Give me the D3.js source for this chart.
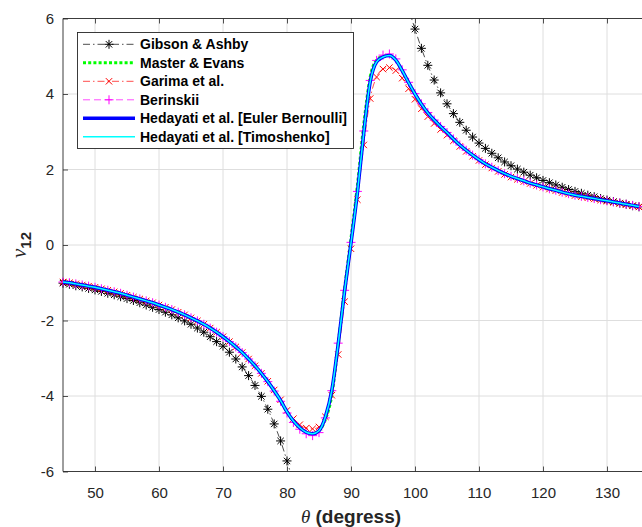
<!DOCTYPE html>
<html>
<head>
<meta charset="utf-8">
<script src="https://d3js.org/d3.v7.min.js"></script>
<style>
  body { margin: 0; background: #fff; }
  svg { display: block; font-family: Arial, "Liberation Sans", Helvetica, sans-serif; }
  .tick text { fill: #262626; font-size: 15px; }
  .tick line { stroke: #262626; stroke-width: 0.8; }
</style>
</head>
<body>
<div id="chart"></div>
<script>
// angle grid (degrees)
const theta = [45,46,47,48,49,50,51,52,53,54,55,56,57,58,59,60,61,62,63,64,65,66,67,68,69,
  70,71,72,73,74,75,76,77,78,79,80,81,82,83,84,85,86,87,88,89,90,91,92,93,94,95,96,97,98,99,
  100,101,102,103,104,105,106,107,108,109,110,111,112,113,114,115,116,117,118,119,120,121,
  122,123,124,125,126,127,128,129,130,131,132,133,134,135];

// Gibson & Ashby (null where the curve leaves the axes)
const nuGibson = [-1.01,-1.04,-1.08,-1.11,-1.15,-1.19,-1.23,-1.28,-1.32,-1.37,-1.42,-1.47,-1.53,
  -1.59,-1.65,-1.71,-1.78,-1.85,-1.93,-2.01,-2.10,-2.20,-2.31,-2.43,-2.56,-2.68,-2.84,-3.02,
  -3.23,-3.46,-3.72,-4.01,-4.35,-4.74,-5.19,-5.72,-6.30,
  null,null,null,null,null,null,null,null,null,null,null,null,null,null,null,null,null,
  6.25,5.72,5.21,4.76,4.37,4.03,3.74,3.48,3.25,3.04,2.86,2.70,2.56,2.43,2.31,2.20,2.10,2.01,
  1.93,1.85,1.78,1.71,1.65,1.59,1.53,1.47,1.42,1.37,1.32,1.28,1.23,1.19,1.15,1.11,1.08,1.04,1.01];

// Hedayati et al. [Euler Bernoulli] (Timoshenko lies on top of it)
const nuEuler = [-0.98,-1.00,-1.03,-1.06,-1.09,-1.12,-1.16,-1.20,-1.24,-1.28,-1.33,-1.38,-1.43,
  -1.48,-1.53,-1.59,-1.65,-1.71,-1.78,-1.85,-1.93,-2.01,-2.10,-2.20,-2.31,-2.43,-2.56,-2.70,
  -2.85,-3.02,-3.20,-3.40,-3.62,-3.86,-4.12,-4.42,-4.66,-4.84,-4.96,-5.00,-4.92,-4.55,-3.85,
  -2.62,-1.22,0.05,1.38,2.98,4.32,4.85,4.98,5.02,4.90,4.62,4.30,4.00,3.73,3.50,3.31,3.14,2.98,
  2.81,2.65,2.51,2.38,2.26,2.15,2.06,1.97,1.89,1.82,1.76,1.70,1.64,1.59,1.54,1.49,1.45,1.40,
  1.36,1.32,1.29,1.26,1.23,1.20,1.17,1.14,1.11,1.08,1.05,1.02];

const nuMaster = [-0.98,-1.00,-1.03,-1.06,-1.09,-1.12,-1.16,-1.20,-1.24,-1.28,-1.33,-1.38,-1.43,
  -1.48,-1.53,-1.59,-1.65,-1.71,-1.78,-1.85,-1.93,-2.01,-2.10,-2.20,-2.31,-2.43,-2.56,-2.70,
  -2.85,-3.02,-3.20,-3.40,-3.62,-3.86,-4.12,-4.42,-4.66,-4.84,-4.96,-5.00,-4.92,-4.62,-3.98,
  -2.62,-1.15,0.18,1.58,3.20,4.45,4.90,5.00,5.02,4.90,4.62,4.30,4.00,3.73,3.50,3.31,3.14,2.98,
  2.81,2.65,2.51,2.38,2.26,2.15,2.06,1.97,1.89,1.82,1.76,1.70,1.64,1.59,1.54,1.49,1.45,1.40,
  1.36,1.32,1.29,1.26,1.23,1.20,1.17,1.14,1.11,1.08,1.05,1.02];

const nuGarima = [-0.98,-1.00,-1.03,-1.06,-1.09,-1.12,-1.16,-1.20,-1.24,-1.28,-1.33,-1.38,-1.43,
  -1.48,-1.53,-1.59,-1.65,-1.71,-1.78,-1.85,-1.93,-2.01,-2.10,-2.20,-2.31,-2.43,-2.56,-2.70,
  -2.85,-3.02,-3.20,-3.40,-3.61,-3.84,-4.10,-4.38,-4.60,-4.76,-4.85,-4.87,-4.82,-4.55,-3.98,
  -2.90,-1.50,-0.10,1.20,2.65,3.88,4.45,4.66,4.70,4.62,4.42,4.14,3.86,3.61,3.40,3.22,3.06,2.91,
  2.76,2.61,2.48,2.35,2.24,2.13,2.04,1.95,1.87,1.80,1.74,1.68,1.63,1.58,1.53,1.48,1.44,1.39,
  1.35,1.31,1.28,1.25,1.22,1.19,1.16,1.13,1.10,1.07,1.04,1.01];

const nuBerinskii = [-0.98,-1.00,-1.03,-1.06,-1.09,-1.12,-1.16,-1.20,-1.24,-1.28,-1.33,-1.38,-1.43,
  -1.48,-1.53,-1.59,-1.65,-1.71,-1.78,-1.85,-1.93,-2.01,-2.10,-2.20,-2.31,-2.43,-2.56,-2.70,
  -2.85,-3.02,-3.20,-3.40,-3.62,-3.87,-4.14,-4.45,-4.70,-4.88,-5.00,-5.05,-4.97,-4.58,-3.86,
  -2.60,-1.20,0.07,1.42,3.02,4.36,4.89,5.03,5.06,4.93,4.64,4.31,4.01,3.74,3.51,3.31,3.14,2.98,
  2.81,2.65,2.51,2.38,2.26,2.15,2.06,1.97,1.89,1.82,1.76,1.70,1.64,1.59,1.54,1.49,1.45,1.40,
  1.36,1.32,1.29,1.26,1.23,1.20,1.17,1.14,1.11,1.08,1.05,1.02];

const xTicks = [50,60,70,80,90,100,110,120,130];
const yTicks = [-6,-4,-2,0,2,4,6];

const series = [
  {name: "Gibson & Ashby", v: nuGibson, color: "#000000", w: 0.7, dash: "7,3,1.5,3", marker: "star"},
  {name: "Master & Evans", v: nuMaster, color: "#00ff00", w: 3, dash: "3,2.2", marker: null},
  {name: "Garima et al.", v: nuGarima, color: "#ff0000", w: 0.7, dash: "7,3,1.5,3", marker: "x"},
  {name: "Berinskii", v: nuBerinskii, color: "#ff00ff", w: 0.7, dash: "7,4", marker: "plus"},
  {name: "Hedayati et al. [Euler Bernoulli]", v: nuEuler, color: "#0000ff", w: 3.5, dash: null, marker: null},
  {name: "Hedayati et al. [Timoshenko]", v: nuEuler, color: "#00ffff", w: 1.5, dash: null, marker: null}
];

const width = 642, height = 527;
const plotLeft = 63, plotTop = 18.5, plotBottom = 471.5, frameRight = 648;

const svg = d3.select("#chart").append("svg")
  .attr("width", width).attr("height", height);

const x = d3.scaleLinear().domain([45, 135]).range([plotLeft, 639]);
const y = d3.scaleLinear().domain([-6, 6]).range([plotBottom, plotTop]);

// grid
svg.append("g").selectAll("line").data(xTicks).enter().append("line")
  .attr("x1", d => x(d)).attr("x2", d => x(d))
  .attr("y1", plotTop).attr("y2", plotBottom)
  .attr("stroke", "#dedede").attr("stroke-width", 1);
svg.append("g").selectAll("line").data(yTicks.slice(1, -1)).enter().append("line")
  .attr("x1", plotLeft).attr("x2", frameRight)
  .attr("y1", d => y(d)).attr("y2", d => y(d))
  .attr("stroke", "#dedede").attr("stroke-width", 1);

// axes (ticks inside, like the original); plain hyphen for negatives
const fmt = d => String(d);
const gx = svg.append("g").attr("transform", `translate(0,${plotBottom})`)
  .call(d3.axisBottom(x).tickValues(xTicks).tickSize(-5).tickSizeOuter(0).tickPadding(16).tickFormat(fmt));
const gxt = svg.append("g").attr("transform", `translate(0,${plotTop})`)
  .call(d3.axisTop(x).tickValues(xTicks).tickSize(-5).tickSizeOuter(0).tickFormat(""));
const gy = svg.append("g").attr("transform", `translate(${plotLeft},0)`)
  .call(d3.axisLeft(y).tickValues(yTicks).tickSize(-5).tickSizeOuter(0).tickPadding(9).tickFormat(fmt));
[gx, gxt, gy].forEach(g => g.select(".domain").remove());

// frame
svg.append("path")
  .attr("d", `M${frameRight},${plotTop}H${plotLeft}V${plotBottom}H${frameRight}`)
  .attr("fill", "none").attr("stroke", "#262626").attr("stroke-width", 0.9);

svg.append("clipPath").attr("id", "clip").append("rect")
  .attr("x", plotLeft).attr("y", plotTop)
  .attr("width", frameRight - plotLeft).attr("height", plotBottom - plotTop);

const line = d3.line()
  .defined(d => d[1] !== null)
  .x(d => x(d[0])).y(d => y(d[1]))
  .curve(d3.curveMonotoneX);

function markerPath(type) {
  if (type === "star") return "M-4.5,0H4.5M0,-4.5V4.5M-3.2,-3.2L3.2,3.2M-3.2,3.2L3.2,-3.2";
  if (type === "x") return "M-3.2,-3.2L3.2,3.2M-3.2,3.2L3.2,-3.2";
  if (type === "plus") return "M-4.5,0H4.5M0,-4.5V4.5";
  return "";
}

const plot = svg.append("g");
series.forEach(s => {
  const pts = theta.map((t, i) => [t, s.v[i]]);
  plot.append("path")
    .attr("clip-path", "url(#clip)")
    .attr("d", line(pts))
    .attr("fill", "none")
    .attr("stroke", s.color)
    .attr("stroke-width", s.w)
    .attr("stroke-dasharray", s.dash)
    .attr("stroke-linejoin", "round");
  if (s.marker) {
    plot.append("g").selectAll("path")
      .data(pts.filter(d => d[1] !== null && d[1] >= -6 && d[1] <= 6))
      .enter().append("path")
      .attr("transform", d => `translate(${x(d[0])},${y(d[1])})`)
      .attr("d", markerPath(s.marker))
      .attr("fill", "none")
      .attr("stroke", s.color)
      .attr("stroke-width", 1);
  }
});

// legend
const lg = svg.append("g");
lg.append("rect").attr("x", 77.5).attr("y", 32.5).attr("width", 276).attr("height", 116)
  .attr("fill", "#fff").attr("stroke", "#262626").attr("stroke-width", 0.9);
series.forEach((s, i) => {
  const ly = 44.3 + i * 18.5;
  lg.append("line")
    .attr("x1", 83).attr("x2", 135).attr("y1", ly).attr("y2", ly)
    .attr("stroke", s.color).attr("stroke-width", s.w)
    .attr("stroke-dasharray", s.dash);
  if (s.marker) {
    lg.append("path").attr("transform", `translate(109,${ly})`)
      .attr("d", markerPath(s.marker))
      .attr("fill", "none").attr("stroke", s.color).attr("stroke-width", 1);
  }
  lg.append("text")
    .attr("x", 140).attr("y", ly + 5)
    .attr("font-size", 14).attr("font-weight", "bold").attr("fill", "#000")
    .text(s.name);
});

// axis labels
const xl = svg.append("text")
  .attr("x", 351).attr("y", 523)
  .attr("text-anchor", "middle")
  .attr("font-size", 19).attr("font-weight", "bold").attr("fill", "#262626");
xl.append("tspan").attr("font-family", "'Liberation Serif', 'DejaVu Serif', serif")
  .attr("font-style", "italic").attr("font-weight", "normal").text("θ");
xl.append("tspan").text(" (degress)");

const yl = svg.append("text")
  .attr("transform", "translate(26,245) rotate(-90)")
  .attr("text-anchor", "middle")
  .attr("font-size", 21).attr("fill", "#262626");
yl.append("tspan").attr("font-family", "'Liberation Serif', 'DejaVu Serif', serif")
  .attr("font-style", "italic").text("ν");
yl.append("tspan").attr("font-size", 15).attr("font-weight", "bold")
  .attr("dy", 5).text("12");
</script>
</body>
</html>
